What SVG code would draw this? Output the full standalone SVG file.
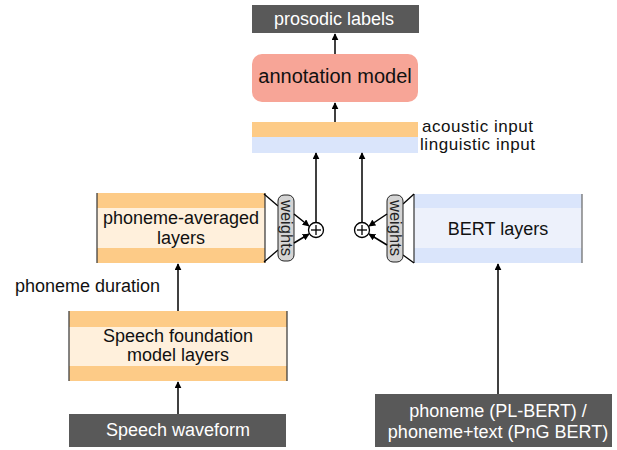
<svg xmlns="http://www.w3.org/2000/svg" width="617" height="450" viewBox="0 0 617 450">
<defs>
<marker id="ah" viewBox="0 0 10 10" refX="9" refY="5" markerWidth="7" markerHeight="7" orient="auto" markerUnits="userSpaceOnUse">
<path d="M0,0 L10,5 L0,10 z" fill="#000"/>
</marker>
<style>
text{font-family:"Liberation Sans",Arial,sans-serif;}
.dark{fill:#595959;}
.wt{fill:#fff;font-size:18px;text-anchor:middle;}
.bt{fill:#111;font-size:18px;text-anchor:middle;}
.lbl{fill:#111;font-size:18px;}
.inl{fill:#111;font-size:17px;}
.or{fill:#fdcb87;}
.orl{fill:#fff0dc;}
.bl{fill:#dae5fb;}
.bll{fill:#edf1fb;}
.edge{stroke:#333;stroke-width:1.2;fill:none;}
.pill{fill:#d4d4d4;stroke:#222;stroke-width:1;}
.ln{stroke:#000;stroke-width:1.3;fill:none;}
.arr{stroke:#000;stroke-width:1.5;fill:none;marker-end:url(#ah);}
.wtx{fill:#222;font-size:16.5px;text-anchor:middle;}
</style>
</defs>

<g id="prosodic-labels">
<rect class="dark" x="252" y="5" width="167" height="28"/>
<text class="wt" x="334" y="25">prosodic labels</text>
</g>

<g id="annotation-model">
<rect x="252" y="54" width="166" height="48" rx="10" fill="#f7a597"/>
<text class="bt" x="335" y="83" style="font-size:20px">annotation model</text>
</g>

<g id="inputs">
<rect class="or" x="252" y="122" width="166" height="15"/>
<rect class="bl" x="252" y="137" width="166" height="16"/>
<text class="inl" x="422" y="132" textLength="111">acoustic input</text>
<text class="inl" x="420" y="150" textLength="115">linguistic input</text>
</g>

<g id="phoneme-averaged-layers">
<rect class="orl" x="97" y="193" width="168" height="70"/>
<rect class="or" x="97" y="193" width="168" height="15"/>
<rect class="or" x="97" y="248" width="168" height="15"/>
<line class="edge" x1="97" y1="193" x2="97" y2="263"/>
<line class="edge" x1="265" y1="193" x2="265" y2="263"/>
<text class="bt" x="181" y="224">phoneme-averaged</text>
<text class="bt" x="181" y="244">layers</text>
</g>

<g id="weights-left">
<line class="ln" x1="264" y1="194" x2="278" y2="206"/>
<line class="ln" x1="264" y1="262" x2="278" y2="250"/>
<rect class="pill" x="278" y="195" width="16" height="66" rx="6"/>
<text class="wtx" transform="translate(286,228) rotate(90)" y="5">weights</text>
</g>

<g id="sum-left">
<circle cx="316" cy="230" r="7.5" fill="#fff" stroke="#000" stroke-width="1.3"/>
<line class="ln" x1="311" y1="230" x2="321" y2="230"/>
<line class="ln" x1="316" y1="225" x2="316" y2="235"/>
</g>

<g id="bert-layers">
<rect class="bll" x="414" y="194" width="168" height="69"/>
<rect class="bl" x="414" y="194" width="168" height="14"/>
<rect class="bl" x="414" y="248" width="168" height="15"/>
<line class="edge" x1="414" y1="194" x2="414" y2="263"/>
<line x1="582" y1="194" x2="582" y2="263" stroke="#666" stroke-width="1.2"/>
<text class="bt" x="498" y="235">BERT layers</text>
</g>

<g id="weights-right">
<line class="ln" x1="403" y1="204" x2="414" y2="194"/>
<line class="ln" x1="403" y1="255" x2="414" y2="263"/>
<rect class="pill" x="387" y="195" width="16" height="67" rx="6"/>
<text class="wtx" transform="translate(395,228) rotate(90)" y="5">weights</text>
</g>

<g id="sum-right">
<circle cx="362" cy="230" r="7.5" fill="#fff" stroke="#000" stroke-width="1.3"/>
<line class="ln" x1="357" y1="230" x2="367" y2="230"/>
<line class="ln" x1="362" y1="225" x2="362" y2="235"/>
</g>

<g id="speech-foundation">
<rect class="orl" x="69" y="311" width="218" height="70"/>
<rect class="or" x="69" y="311" width="218" height="16"/>
<rect class="or" x="69" y="366" width="218" height="15"/>
<line class="edge" x1="69" y1="311" x2="69" y2="381"/>
<line class="edge" x1="287" y1="311" x2="287" y2="381"/>
<text class="bt" x="178" y="342">Speech foundation</text>
<text class="bt" x="178" y="361">model layers</text>
</g>

<g id="speech-waveform">
<rect class="dark" x="69" y="414" width="217" height="33"/>
<text class="wt" x="178" y="436">Speech waveform</text>
</g>

<g id="phoneme-input">
<rect class="dark" x="375" y="394" width="237" height="53"/>
<text class="wt" x="498" y="417">phoneme (PL-BERT) /</text>
<text class="wt" x="498" y="438">phoneme+text (PnG BERT)</text>
</g>

<g id="phoneme-duration-label">
<text class="lbl" x="15" y="292">phoneme duration</text>
</g>

<g id="connectors">
<line class="arr" x1="335" y1="54" x2="335" y2="34"/>
<line class="arr" x1="335" y1="122" x2="335" y2="103"/>
<line class="arr" x1="316" y1="222" x2="316" y2="153"/>
<line class="arr" x1="362" y1="222" x2="362" y2="153"/>
<line class="arr" x1="294" y1="214" x2="309" y2="226"/>
<line class="arr" x1="294" y1="243" x2="309" y2="234"/>
<line class="arr" x1="387" y1="214" x2="369" y2="226"/>
<line class="arr" x1="387" y1="245" x2="369" y2="234"/>
<line class="arr" x1="178" y1="311" x2="178" y2="264"/>
<line class="arr" x1="178" y1="414" x2="178" y2="382"/>
<line class="arr" x1="498" y1="394" x2="498" y2="264"/>
</g>
</svg>
